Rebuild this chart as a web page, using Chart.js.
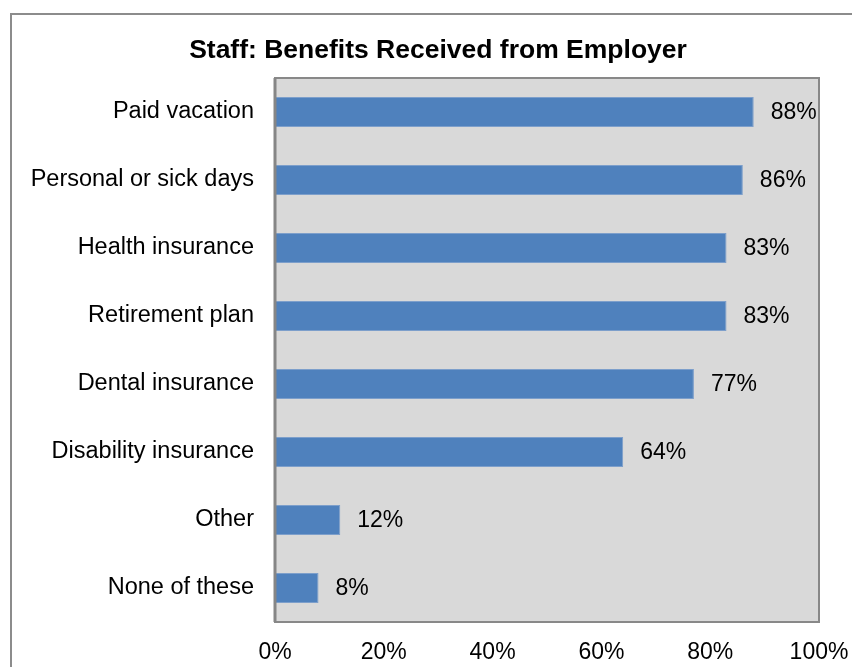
<!DOCTYPE html>
<html>
<head>
<meta charset="utf-8">
<title>Staff: Benefits Received from Employer</title>
<script src="https://cdn.jsdelivr.net/npm/chart.js@4.4.1/dist/chart.umd.min.js"></script>
<style>
  html, body { margin: 0; padding: 0; background: #fff; }
  canvas { display: block; }
</style>
</head>
<body>
<canvas id="chart" width="852" height="667"></canvas>
<script>
const benefits = [
    'Paid vacation',
    'Personal or sick days',
    'Health insurance',
    'Retirement plan',
    'Dental insurance',
    'Disability insurance',
    'Other',
    'None of these'
];
const percentReceived = [88, 86, 83, 83, 77, 64, 12, 8];
const tickValues = [0, 20, 40, 60, 80, 100];
const chartTitle = 'Staff: Benefits Received from Employer';

const FONT = "'Liberation Sans', Arial, sans-serif";

// frame around the whole chart, title, grey plot area with its border
const backdrop = {
    id: 'backdrop',
    beforeDraw(chart) {
        const { ctx, chartArea: a } = chart;
        ctx.save();
        ctx.strokeStyle = '#8c8c8c';
        ctx.lineWidth = 2;
        ctx.strokeRect(11, 14, 900, 700);

        ctx.fillStyle = '#000';
        ctx.font = 'bold 26.5px ' + FONT;
        ctx.textAlign = 'center';
        ctx.textBaseline = 'alphabetic';
        ctx.fillText(chartTitle, 438, 58);

        ctx.fillStyle = '#d9d9d9';
        ctx.fillRect(a.left, a.top, a.right - a.left, a.bottom - a.top);
        ctx.strokeStyle = '#888888';
        ctx.lineWidth = 2;
        ctx.strokeRect(a.left, a.top, a.right - a.left, a.bottom - a.top);
        ctx.restore();
    },
    afterDatasetsDraw(chart) {
        // left axis line sits on top of the bars
        const { ctx, chartArea: a } = chart;
        ctx.save();
        ctx.strokeStyle = '#868686';
        ctx.lineWidth = 3;
        ctx.beginPath();
        ctx.moveTo(a.left, a.top);
        ctx.lineTo(a.left, a.bottom);
        ctx.stroke();
        ctx.restore();
    }
};

// percentage text right of each bar
const valueLabels = {
    id: 'valueLabels',
    afterDatasetsDraw(chart) {
        const { ctx } = chart;
        const x = chart.scales.x;
        const meta = chart.getDatasetMeta(0);
        ctx.save();
        ctx.font = '23px ' + FONT;
        ctx.fillStyle = '#000';
        ctx.textAlign = 'left';
        ctx.textBaseline = 'middle';
        meta.data.forEach((bar, i) => {
            const v = percentReceived[i];
            ctx.fillText(v + '%', x.getPixelForValue(v) + 17, bar.y + 1);
        });
        ctx.restore();
    }
};

const data = {
    labels: benefits,
    datasets: [{
        data: percentReceived,
        backgroundColor: '#4f81bd',
        borderColor: '#7d9fcb',
        borderWidth: 1,
        barPercentage: 0.44,
        categoryPercentage: 1
    }]
};

const config = {
    type: 'bar',
    data: data,
    options: {
        indexAxis: 'y',
        responsive: false,
        animation: false,
        layout: {
            padding: { left: 0, right: 33, top: 78, bottom: 0 }
        },
        plugins: {
            legend: { display: false },
            tooltip: { enabled: false },
            title: { display: false }
        },
        scales: {
            x: {
                min: 0,
                max: 100,
                afterBuildTicks(scale) {
                    scale.ticks = tickValues.map(v => ({ value: v }));
                },
                afterFit(scale) {
                    scale.height = 45;
                    scale.paddingLeft = 0;
                    scale.paddingRight = 0;
                },
                grid: { display: false, drawTicks: false },
                border: { display: false },
                ticks: {
                    padding: 17,
                    color: '#000',
                    maxRotation: 0,
                    autoSkip: false,
                    font: { family: FONT, size: 23 },
                    callback: v => v + '%'
                }
            },
            y: {
                afterFit(scale) {
                    scale.width = 275;
                    scale.paddingTop = 0;
                    scale.paddingBottom = 0;
                },
                grid: { display: false, drawTicks: false },
                border: { display: false },
                ticks: {
                    padding: 21,
                    color: '#000',
                    autoSkip: false,
                    font: { family: FONT, size: 23.5 }
                }
            }
        }
    },
    plugins: [backdrop, valueLabels]
};

const ctx = document.getElementById('chart').getContext('2d');
new Chart(ctx, config);
</script>
</body>
</html>
